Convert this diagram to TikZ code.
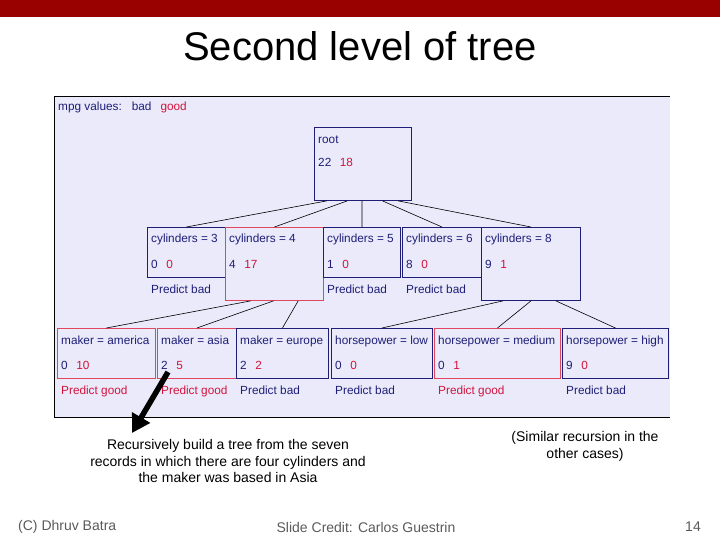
\documentclass[tikz,border=0pt]{standalone}
\usepackage{fontspec}
\setmainfont{Liberation Sans}
\usetikzlibrary{arrows.meta,calc}
\definecolor{barred}{RGB}{153,0,0}
\definecolor{panel}{RGB}{234,234,250}
\definecolor{navy}{RGB}{30,30,120}
\definecolor{redtxt}{RGB}{210,20,60}
\definecolor{redbox}{RGB}{225,70,95}
\definecolor{foot}{RGB}{90,90,90}
\newcommand{\boxfont}{\fontsize{11.8}{13}\selectfont}
\newcommand{\nums}[2]{{\color{navy}#1}\hspace{8.5pt}{\color{redtxt}#2}}
\tikzset{
  tbox/.style={draw=navy, line width=0.9pt, anchor=north west, inner sep=0, minimum height=50pt},
  rbox/.style={draw=redbox, line width=0.9pt, anchor=north west, inner sep=0, minimum height=50pt},
  lbl/.style={anchor=base west, inner sep=0, font=\boxfont, text=navy},
  rlbl/.style={anchor=base west, inner sep=0, font=\boxfont, text=redtxt},
  edge/.style={draw=black, line width=0.6pt},
  bigtext/.style={align=center, font=\fontsize{14}{16.8}\selectfont, inner sep=0},
  foottext/.style={font=\fontsize{14}{15}\selectfont, text=foot, inner sep=0}
}
\begin{document}
\begin{tikzpicture}[x=1pt,y=-1pt]
\useasboundingbox (0,0) rectangle (720,540);
% top bar
\fill[barred] (0,0) rectangle (720,17);
\node[font=\fontsize{40}{44}\selectfont, inner sep=0] (title) at (360,46) {Second level of tree};
% panel
\fill[panel] (54,96) rectangle (670,417);
\draw[black, line width=0.9pt] (670,96) -- (54,96) -- (54,417) -- (670,417);
\node[lbl, anchor=base west] (legend) at (58,111) {mpg values:\hspace{10pt}bad\hspace{9pt}{\color{redtxt}good}};
% root
\node[tbox, minimum width=97pt, minimum height=73pt] (root) at (314,127) {};
\node[lbl] (rootl) at ($(root.north west)+(4,17)$) {root};
\node[lbl] (rootn) at ($(root.north west)+(4,40)$) {\nums{22}{18}};
% level 1
\node[tbox, minimum width=78pt] (c3) at (147,227) {};
\node[rbox, minimum width=98pt, minimum height=73pt] (c4) at (225,227) {};
\node[tbox, minimum width=77pt] (c5) at (323,227) {};
\node[tbox, minimum width=79pt] (c6) at (402,227) {};
\node[tbox, minimum width=99pt, minimum height=73pt] (c8) at (481,227) {};
\foreach \n/\t/\a/\b in {c3/3/0/0, c4/4/4/17, c5/5/1/0, c6/6/8/0, c8/8/9/1}{
  \node[lbl] (\n l) at ($(\n.north west)+(4,16)$) {cylinders = \t};
  \node[lbl] (\n n) at ($(\n.north west)+(4,41)$) {\nums{\a}{\b}};
}
\foreach \n in {c3,c5,c6}{
  \node[lbl] (\n p) at ($(\n.north west)+(4,66)$) {Predict bad};
}
% level 2
\node[rbox, minimum width=98pt] (ma) at (57,328) {};
\node[rbox, minimum width=79pt] (mas) at (157,328) {};
\node[tbox, minimum width=92pt] (me) at (236,328) {};
\node[tbox, minimum width=101pt] (hl) at (331,328) {};
\node[rbox, minimum width=126pt] (hm) at (434,328) {};
\node[tbox, minimum width=106pt] (hh) at (562,328) {};
\foreach \n/\t/\a/\b in {ma/maker = america/0/10, mas/maker = asia/2/5, me/maker = europe/2/2, hl/horsepower = low/0/0, hm/horsepower = medium/0/1, hh/horsepower = high/9/0}{
  \node[lbl] (\n l) at ($(\n.north west)+(4,16)$) {\t};
  \node[lbl] (\n n) at ($(\n.north west)+(4,41)$) {\nums{\a}{\b}};
}
\foreach \n in {ma,mas,hm}{
  \node[rlbl] (\n p) at ($(\n.north west)+(4,66)$) {Predict good};
}
\foreach \n in {me,hl,hh}{
  \node[lbl] (\n p) at ($(\n.north west)+(4,66)$) {Predict bad};
}
% edges
\draw[edge] ($(root.south west)!0.13!(root.south east)$) -- (c3.north);
\draw[edge] ($(root.south west)!0.34!(root.south east)$) -- (c4.north);
\draw[edge] ($(root.south west)!0.49!(root.south east)$) -- (c5.north);
\draw[edge] ($(root.south west)!0.70!(root.south east)$) -- (c6.north);
\draw[edge] ($(root.south west)!0.86!(root.south east)$) -- (c8.north);
\draw[edge] ($(c4.south west)!0.26!(c4.south east)$) -- (ma.north);
\draw[edge] ($(c4.south west)!0.49!(c4.south east)$) -- (mas.north);
\draw[edge] ($(c4.south west)!0.74!(c4.south east)$) -- (me.north);
\draw[edge] ($(c8.south west)!0.22!(c8.south east)$) -- (hl.north);
\draw[edge] ($(c8.south west)!0.5!(c8.south east)$) -- (hm.north);
\draw[edge] ($(c8.south west)!0.75!(c8.south east)$) -- (hh.north);
% arrow
\coordinate (atail) at (168,372);
\coordinate (ahead) at (132,433);
\draw[line width=5.5pt, -{Triangle[width=20pt,length=18pt]}] (atail) -- (ahead);
% notes
\node[bigtext] (note1) at (228,461) {Recursively build a tree from the seven\\records in which there are four cylinders and\\the maker was based in Asia};
\node[bigtext] (note2) at (585,446) {(Similar recursion in the\\other cases)};
% footer
\node[foottext, anchor=west] (f1) at (18,527) {(C) Dhruv Batra};
\node[foottext] (f2) at (366,527) {Slide Credit: Carlos Guestrin};
\node[foottext, anchor=east] (f3) at (701,527) {14};
\end{tikzpicture}
\end{document}
